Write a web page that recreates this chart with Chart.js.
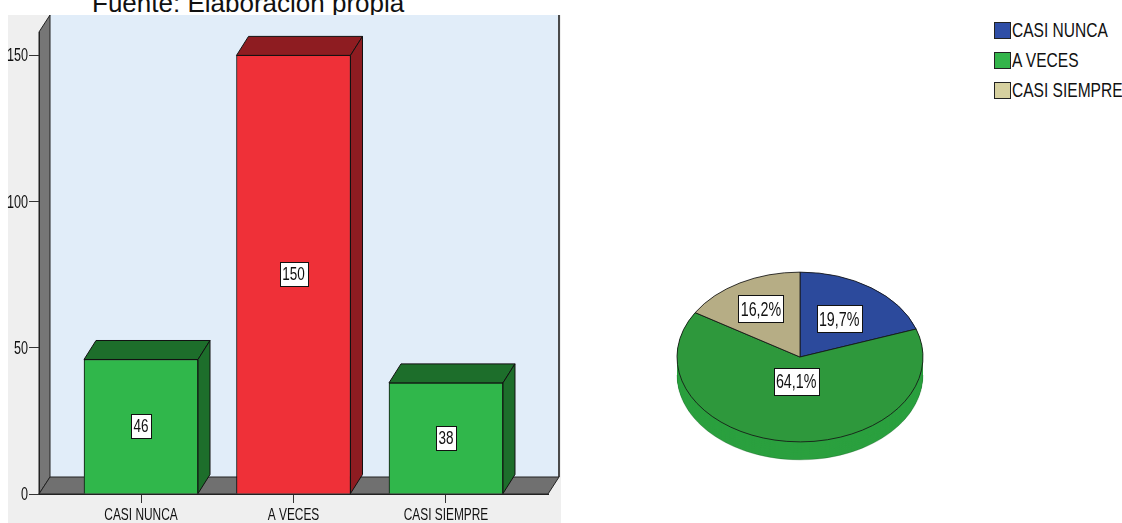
<!DOCTYPE html>
<html>
<head>
<meta charset="utf-8">
<script src="https://cdn.jsdelivr.net/npm/chart.js@4.4.1/dist/chart.umd.min.js"></script>
<style>
  html, body { margin: 0; padding: 0; background: #fff; }
  body { position: relative; width: 1122px; height: 523px; overflow: hidden; }
  #title { position: absolute; left: 92px; top: -10px; font: 26px/26px "Liberation Sans", Arial, sans-serif; color: #111; white-space: nowrap; }
  #barChart { position: absolute; left: 0; top: 0; }
  #pieChart { position: absolute; left: 670px; top: 227px; }
  #legend { position: absolute; left: 994px; top: 22px; }
  .item { position: relative; height: 30px; }
  .swatch { position: absolute; left: 0; top: 0; width: 15px; height: 15px; border: 1px solid #222; }
  .label { position: absolute; left: 18px; top: -4px; font: 21px/24px "Liberation Sans", Arial, sans-serif; color: #111; white-space: nowrap; transform: scaleX(0.74); transform-origin: 0 0; }
</style>
</head>
<body>
<div id="title">Fuente: Elaboración propia</div>
<canvas id="barChart" width="600" height="523"></canvas>
<canvas id="pieChart" width="260" height="260"></canvas>
<div id="legend"></div>
<script>
// Frequencies per answer category
const categories = ['CASI NUNCA', 'A VECES', 'CASI SIEMPRE'];
const counts = [46, 150, 38];
const yTickValues = [0, 50, 100, 150];

// Colours
const barFront = ['#30b74b', '#ef3038', '#30b74b'];
const barShade = ['#1d6e2b', '#8e1c21', '#1d6e2b'];
const pieTop = ['#2c4a9c', '#2e983c', '#b6ad85'];
const pieSide = ['#223c80', '#2ba03f', '#9a9270'];
const legendSwatch = ['#2f4ea6', '#33b44a', '#d6d09f'];

const FONT = '"Liberation Sans", Arial, sans-serif';

function poly(ctx, pts, fill, stroke) {
  ctx.beginPath();
  ctx.moveTo(pts[0][0], pts[0][1]);
  for (let i = 1; i < pts.length; i++) ctx.lineTo(pts[i][0], pts[i][1]);
  ctx.closePath();
  ctx.fillStyle = fill;
  ctx.fill();
  if (stroke) { ctx.strokeStyle = stroke; ctx.lineWidth = 1; ctx.stroke(); }
}

// Narrow text: regular face squeezed horizontally
function narrowText(ctx, text, x, y, size, squeeze, align, baseline) {
  ctx.save();
  ctx.font = size + 'px ' + FONT;
  ctx.fillStyle = '#111';
  ctx.textAlign = align;
  ctx.textBaseline = baseline;
  ctx.translate(x, y);
  ctx.scale(squeeze, 1);
  ctx.fillText(text, 0, 0);
  ctx.restore();
}

function labelBox(ctx, text, x, y, size, squeeze) {
  ctx.save();
  ctx.font = size + 'px ' + FONT;
  const w = Math.round(ctx.measureText(text).width * squeeze + 5);
  const h = Math.round(size + 6);
  const bx = Math.round(x - w / 2) + 0.5, by = Math.round(y - h / 2) + 0.5;
  ctx.fillStyle = '#fff';
  ctx.fillRect(bx, by, w, h);
  ctx.strokeStyle = '#111';
  ctx.lineWidth = 1;
  ctx.strokeRect(bx, by, w, h);
  ctx.restore();
  narrowText(ctx, text, x, y + 1, size, squeeze, 'center', 'middle');
}

// Back wall, side wall, floor, the 3D faces of each bar and the axis labels
const boxes3d = {
  id: 'boxes3d',
  beforeDraw(chart, args, o) {
    const { ctx, chartArea: a } = chart;
    ctx.save();
    ctx.fillStyle = '#efefef';
    ctx.fillRect(8, a.top - o.dy, a.right + o.dx + 2 - 8, chart.height);
    ctx.fillStyle = '#e1edf9';
    ctx.fillRect(a.left + o.dx, a.top - o.dy, a.right - a.left, a.bottom - a.top);
    ctx.strokeStyle = '#4a4a4a';
    ctx.lineWidth = 2;
    ctx.beginPath();
    ctx.moveTo(a.right + o.dx, a.top - o.dy);
    ctx.lineTo(a.right + o.dx, a.bottom - o.dy);
    ctx.stroke();
    poly(ctx, [[a.left, a.top], [a.left + o.dx, a.top - o.dy], [a.left + o.dx, a.bottom - o.dy], [a.left, a.bottom]], '#767676', '#222');
    poly(ctx, [[a.left, a.bottom], [a.right, a.bottom], [a.right + o.dx, a.bottom - o.dy], [a.left + o.dx, a.bottom - o.dy]], '#707070', '#222');
    ctx.restore();
  },
  afterDatasetsDraw(chart, args, o) {
    const ctx = chart.ctx;
    const meta = chart.getDatasetMeta(0);
    ctx.save();
    meta.data.forEach((el, i) => {
      const p = el.getProps(['x', 'y', 'base', 'width'], true);
      const l = p.x - p.width / 2, r = p.x + p.width / 2;
      poly(ctx, [[l, p.y], [r, p.y], [r + o.bx, p.y - o.by], [l + o.bx, p.y - o.by]], barShade[i], '#111');
      poly(ctx, [[r, p.y], [r + o.bx, p.y - o.by], [r + o.bx, p.base - o.by], [r, p.base]], barShade[i], '#111');
      labelBox(ctx, String(counts[i]), p.x, (p.y + p.base) / 2, 18, 0.75);
    });
    ctx.restore();
  },
  afterDraw(chart) {
    const ctx = chart.ctx;
    const xs = chart.scales.x, ys = chart.scales.y;
    xs.ticks.forEach((t, i) => {
      narrowText(ctx, categories[t.value], xs.getPixelForTick(i), 520, 17, 0.7, 'center', 'alphabetic');
    });
    ys.ticks.forEach((t, i) => {
      narrowText(ctx, String(t.value), ys.left + ys.width - 11, ys.getPixelForTick(i) + 1, 18, 0.7, 'right', 'middle');
    });
  }
};

new Chart(document.getElementById('barChart'), {
  type: 'bar',
  data: {
    datasets: [{
      data: counts.map((v, i) => ({ x: i, y: v })),
      backgroundColor: barFront,
      borderColor: '#111',
      borderWidth: 1,
      barThickness: 114
    }]
  },
  plugins: [boxes3d],
  options: {
    responsive: false,
    animation: false,
    layout: { padding: { top: 32, right: 52, left: 0, bottom: 0 } },
    plugins: {
      legend: { display: false },
      tooltip: { enabled: false },
      boxes3d: { dx: 11, dy: 17, bx: 12, by: 19 }
    },
    scales: {
      x: {
        type: 'linear',
        offset: false,
        min: -0.669,
        max: 2.669,
        afterBuildTicks(s) { s.ticks = categories.map((c, i) => ({ value: i })); },
        afterFit(s) { s.height = 29; },
        grid: { offset: false, drawOnChartArea: false, drawTicks: true, tickLength: 9, color: '#333' },
        border: { display: true, color: '#222' },
        ticks: { display: false }
      },
      y: {
        min: 0,
        max: 158,
        afterBuildTicks(s) { s.ticks = yTickValues.map(v => ({ value: v })); },
        afterFit(s) { s.width = 39; },
        grid: { drawOnChartArea: false, drawTicks: true, tickLength: 10, color: '#333' },
        border: { display: true, color: '#222' },
        ticks: { display: false }
      }
    }
  }
});

// Tilted pie with a rim below the top face
const total = counts.reduce((s, v) => s + v, 0);
const pctLabels = counts.map(v => (v / total * 100).toFixed(1).replace('.', ',') + '%');
const labelReach = [0.55, 0.29, 0.65];

const tiltedPie = {
  id: 'tiltedPie',
  beforeDatasetsDraw(chart, args, o) {
    const ctx = chart.ctx;
    const arcs = chart.getDatasetMeta(0).data;
    const cx = arcs[0].x, cy = arcs[0].y;
    ctx.save();
    ctx.translate(cx, cy);
    ctx.scale(1, o.tilt);
    ctx.translate(-cx, -cy);
    const depth = o.depth / o.tilt;
    for (let d = depth; d > 0; d -= 1) {
      arcs.forEach((arc, i) => {
        const p = arc.getProps(['startAngle', 'endAngle', 'outerRadius'], true);
        ctx.beginPath();
        ctx.moveTo(cx, cy + d);
        ctx.arc(cx, cy + d, p.outerRadius, p.startAngle, p.endAngle);
        ctx.closePath();
        ctx.fillStyle = pieSide[i];
        ctx.fill();
      });
    }
    const r0 = arcs[0].outerRadius;
    ctx.beginPath();
    ctx.arc(cx, cy + depth, r0, 0, Math.PI);
    ctx.strokeStyle = 'rgba(20,80,30,0.35)';
    ctx.lineWidth = 1;
    ctx.stroke();
  },
  afterDatasetsDraw(chart, args, o) {
    const ctx = chart.ctx;
    ctx.restore();
    const arcs = chart.getDatasetMeta(0).data;
    arcs.forEach((arc, i) => {
      const p = arc.getProps(['x', 'y', 'startAngle', 'endAngle', 'outerRadius'], true);
      const mid = (p.startAngle + p.endAngle) / 2;
      const r = p.outerRadius * labelReach[i];
      labelBox(ctx, pctLabels[i], p.x + Math.cos(mid) * r, p.y + Math.sin(mid) * r * o.tilt, 21, 0.68);
    });
  }
};

const pie = new Chart(document.getElementById('pieChart'), {
  type: 'pie',
  data: {
    labels: categories,
    datasets: [{
      data: counts,
      backgroundColor: pieTop,
      borderColor: '#151515',
      borderWidth: 1,
      radius: 123,
      hoverOffset: 0,
      clip: false
    }]
  },
  plugins: [tiltedPie],
  options: {
    responsive: false,
    animation: false,
    layout: { padding: 0 },
    plugins: {
      legend: { display: false },
      tooltip: { enabled: false },
      tiltedPie: { tilt: 0.69, depth: 18 }
    }
  }
});

// HTML legend built from the pie's own legend items
const legendEl = document.getElementById('legend');
pie.options.plugins.legend.labels.generateLabels(pie).forEach((item, i) => {
  const row = document.createElement('div');
  row.className = 'item';
  const sw = document.createElement('span');
  sw.className = 'swatch';
  sw.style.background = legendSwatch[i];
  const tx = document.createElement('span');
  tx.className = 'label';
  tx.textContent = item.text;
  row.appendChild(sw);
  row.appendChild(tx);
  legendEl.appendChild(row);
});
</script>
</body>
</html>
